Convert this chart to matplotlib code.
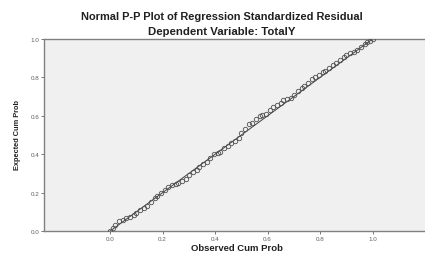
import numpy as np
import matplotlib.pyplot as plt

# Observed vs expected cumulative probabilities
obs = [0.00,0.01,0.02,0.035,0.05,0.06,0.075,0.09,
       0.10,0.115,0.13,0.14,0.155,0.17,0.18,0.195,
       0.21,0.22,0.235,0.25,0.26,0.275,0.29,
       0.30,0.315,0.33,0.34,0.355,0.37,0.38,0.395,
       0.41,0.42,0.435,0.45,0.46,0.475,0.49,
       0.50,0.515,0.53,0.54,0.555,0.57,0.58,0.595,
       0.61,0.62,0.635,0.65,0.66,0.675,0.69,
       0.70,0.715,0.73,0.74,0.755,0.77,0.78,0.795,
       0.81,0.82,0.835,0.85,0.86,0.875,0.89,
       0.90,0.915,0.93,0.94,0.955,0.97,0.98,0.99,1.00]
exp = [0.00,0.015,0.03,0.05,0.06,0.07,0.075,0.085,
       0.095,0.11,0.12,0.13,0.15,0.17,0.185,0.20,
       0.215,0.23,0.24,0.245,0.25,0.26,0.27,
       0.29,0.31,0.32,0.335,0.35,0.36,0.38,0.40,
       0.405,0.41,0.43,0.445,0.46,0.47,0.485,
       0.51,0.53,0.555,0.565,0.585,0.60,0.605,0.61,
       0.63,0.645,0.655,0.665,0.68,0.69,0.695,
       0.71,0.73,0.745,0.755,0.77,0.79,0.80,0.815,
       0.83,0.835,0.85,0.865,0.875,0.89,0.905,
       0.915,0.925,0.935,0.945,0.96,0.975,0.985,0.99,1.00]
ref = [0.0, 1.0]
xt = [0.0, 0.2, 0.4, 0.6, 0.8, 1.0]
yt = [0.0, 0.2, 0.4, 0.6, 0.8, 1.0]

plt.rcParams['font.family'] = ['Liberation Sans', 'DejaVu Sans']

fig = plt.figure(figsize=(4.25, 2.55), dpi=100)
ax = fig.add_axes([0.1035, 0.09, 0.8965, 0.753])
ax.set_facecolor('#f0f0f0')

ax.plot(ref, ref, '-', color='#404040', lw=0.7, zorder=2)
ax.plot(obs, exp, 'o', ms=3.2, mfc='none', mec='#505050', mew=0.6, zorder=3)

ax.set_xlim(-0.252, 1.2)
ax.set_ylim(0, 1.0)
ax.set_xticks(xt)
ax.set_yticks(yt)
ax.set_xticklabels([f'{v:.1f}' for v in xt])
ax.set_yticklabels([f'{v:.1f}' for v in yt])
ax.tick_params(labelsize=4.5, colors='#606060', length=2, width=0.6, direction='out', pad=1.5)

for s in ['left', 'bottom', 'top']:
    ax.spines[s].set_color('#808080')
    ax.spines[s].set_linewidth(1.0)
ax.spines['right'].set_visible(False)

fig.text(0.558, 0.026, 'Observed Cum Prob', ha='center', va='center',
         fontsize=6.8, fontweight='bold', color='#202020')
fig.text(0.042, 0.47, 'Expected Cum Prob', ha='center', va='center', rotation=90,
         fontsize=5.3, fontweight='bold', color='#202020')

fig.text(0.522, 0.933, 'Normal P-P Plot of Regression Standardized Residual',
         ha='center', va='center', fontsize=7.9, fontweight='bold', color='#202020')
fig.text(0.522, 0.876, 'Dependent Variable: TotalY',
         ha='center', va='center', fontsize=8.2, fontweight='bold', color='#202020')

fig.savefig('out.png', dpi=100)
